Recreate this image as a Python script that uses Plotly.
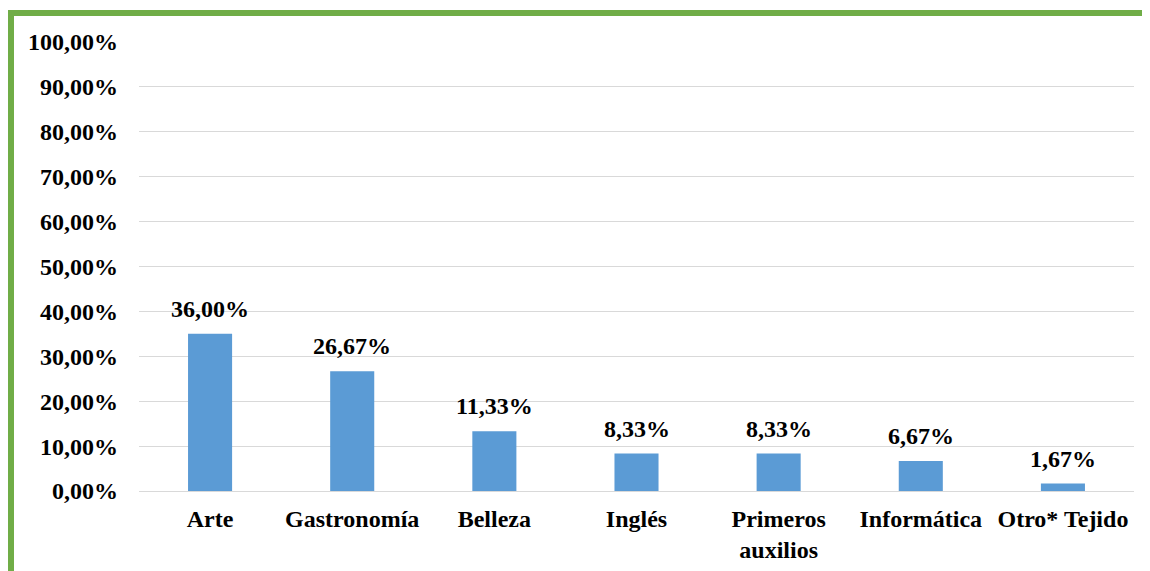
import plotly.graph_objects as go

categories = ["Arte", "Gastronomía", "Belleza", "Inglés", "Primeros<br>auxilios", "Informática", "Otro* Tejido"]
bar_values = [0.35, 0.2667, 0.1333, 0.0833, 0.0833, 0.0667, 0.0167]
label_texts = ["36,00%", "26,67%", "11,33%", "8,33%", "8,33%", "6,67%", "1,67%"]
y_ticks = [i / 10 for i in range(11)]

FONT = "Liberation Serif"

fig = go.Figure(
    go.Bar(
        x=categories,
        y=bar_values,
        marker=dict(color="#5B9BD5", line=dict(width=0)),
        cliponaxis=False,
        hoverinfo="skip",
    )
)

annotations = [
    dict(x=c, y=v, xref="x", yref="y", text=t, showarrow=False,
         xanchor="center", yanchor="middle", yshift=25,
         font=dict(family=FONT, size=24, color="black", weight="bold"))
    for c, v, t in zip(categories, bar_values, label_texts)
]

fig.update_layout(
    width=1142,
    height=563,
    margin=dict(l=131, r=16, t=34, b=80),
    paper_bgcolor="white",
    plot_bgcolor="white",
    separators=",.",
    bargap=0.69,
    showlegend=False,
    font=dict(family=FONT, color="black"),
    annotations=annotations,
    xaxis=dict(
        automargin=False,
        showgrid=False,
        showline=False,
        tickfont=dict(family=FONT, size=24, color="black", weight="bold"),
        ticks="",
        ticklabelstandoff=11,
    ),
    yaxis=dict(
        automargin=False,
        range=[0, 1.0],
        tickvals=y_ticks,
        tickformat=".2%",
        showgrid=True,
        gridcolor="#D9D9D9",
        gridwidth=1.3,
        zeroline=True,
        zerolinecolor="#D9D9D9",
        zerolinewidth=1.3,
        showline=False,
        tickfont=dict(family=FONT, size=24, color="black", weight="bold"),
        ticks="",
        ticklabelstandoff=20,
    ),
    shapes=[
        dict(type="line", xref="paper", yref="paper",
             x0=(8 - 139) / 995, x1=(1150 - 139) / 995,
             y0=(491 - 13) / 449, y1=(491 - 13) / 449,
             line=dict(color="#70AD47", width=6)),
        dict(type="line", xref="paper", yref="paper",
             x0=(11 - 139) / 995, x1=(11 - 139) / 995,
             y0=(491 - 10) / 449, y1=(491 - 575) / 449,
             line=dict(color="#70AD47", width=6)),
    ],
)

fig.write_html("out.html")
